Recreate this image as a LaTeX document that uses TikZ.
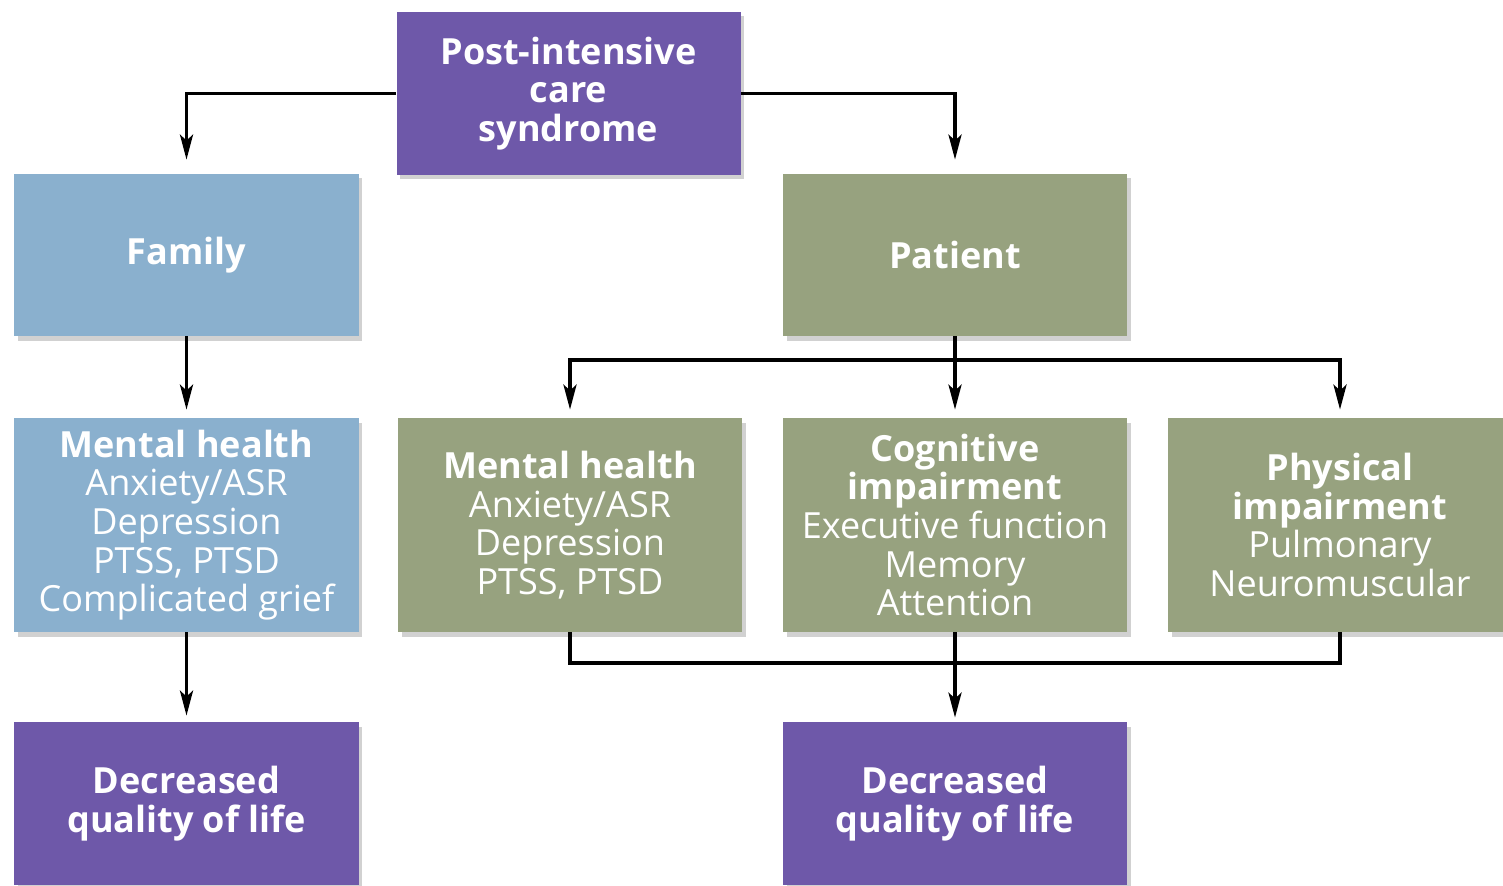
\documentclass[tikz,border=0pt]{standalone}
\usepackage{fontspec}
\setmainfont{Open Sans}
\usepackage{tikz}
\usetikzlibrary{positioning, arrows.meta, shadows}
\definecolor{picsviolet}{HTML}{6E58A9}
\definecolor{famblue}{HTML}{8AB0CE}
\definecolor{patgreen}{HTML}{97A27F}

\begin{document}
\begin{tikzpicture}[on grid, node distance=2cm,
    box/.style={rectangle, minimum width=6.88cm, text=white, align=center,
      font=\fontsize{20.5}{22}\selectfont,
      drop shadow={shadow xshift=0.07cm, shadow yshift=-0.09cm, opacity=0.18, fill=black}},
    topbox/.style={box, fill=picsviolet, minimum height=3.26cm},
    rowbox/.style={box, minimum height=3.24cm},
    listbox/.style={box, minimum height=4.28cm},
    conn/.style={line width=2.2pt, -{Stealth[length=5mm, width=2.6mm, inset=1.2mm]}}]
   \useasboundingbox (0,0) rectangle (30.06,-17.7);
   \node[topbox] (pics) at (11.37,-1.87) {\textbf{Post-intensive}\\\textbf{care}\\\textbf{syndrome}};
   \node[rowbox, fill=famblue] (fam) [below left=3.23cm and 7.64cm of pics] {\textbf{Family}};
   \node[rowbox, fill=patgreen] (pat) [right=15.37cm of fam] {\textbf{Patient}};
   \node[listbox, fill=famblue] (fam_mh) [below=5.4cm of fam]
      {\textbf{Mental health}\\Anxiety/ASR\\Depression\\PTSS, PTSD\\Complicated grief};
   \node[listbox, fill=patgreen] (pat_mh) [right=7.67cm of fam_mh]
      {\textbf{Mental health}\\Anxiety/ASR\\Depression\\PTSS, PTSD};
   \node[listbox, fill=patgreen] (cog) [below=5.4cm of pat]
      {\textbf{Cognitive}\\\textbf{impairment}\\Executive function\\Memory\\Attention};
   \node[listbox, fill=patgreen] (phy) [right=7.7cm of cog]
      {\textbf{Physical}\\\textbf{impairment}\\Pulmonary\\Neuromuscular};
   \node[topbox] (fam_ql) [below=5.57cm of fam_mh] {\textbf{Decreased}\\\textbf{quality of life}};
   \node[topbox] (pat_ql) [below=5.57cm of cog] {\textbf{Decreased}\\\textbf{quality of life}};
   \coordinate[below=0.48cm of pat.south] (split);
   \coordinate[below=0.62cm of cog.south] (join);
   \draw[conn, shorten >=0.28cm] (pics.west) -| (fam.north);
   \draw[conn, shorten >=0.28cm] (pics.east) -| (pat.north);
   \draw[conn, shorten >=0.16cm] (fam.south) -- (fam_mh.north);
   \draw[line width=2.2pt] (pat.south) -- (split);
   \draw[conn, shorten >=0.16cm] (split) -| (pat_mh.north);
   \draw[conn, shorten >=0.16cm] (split) -- (cog.north);
   \draw[conn, shorten >=0.16cm] (split) -| (phy.north);
   \draw[line width=2.2pt] (pat_mh.south) |- (join) -| (phy.south);
   \draw[line width=2.2pt] (cog.south) -- (join);
   \draw[conn, shorten >=0.08cm] (join) -- (pat_ql.north);
   \draw[conn, shorten >=0.12cm] (fam_mh.south) -- (fam_ql.north);
\end{tikzpicture}
\end{document}
